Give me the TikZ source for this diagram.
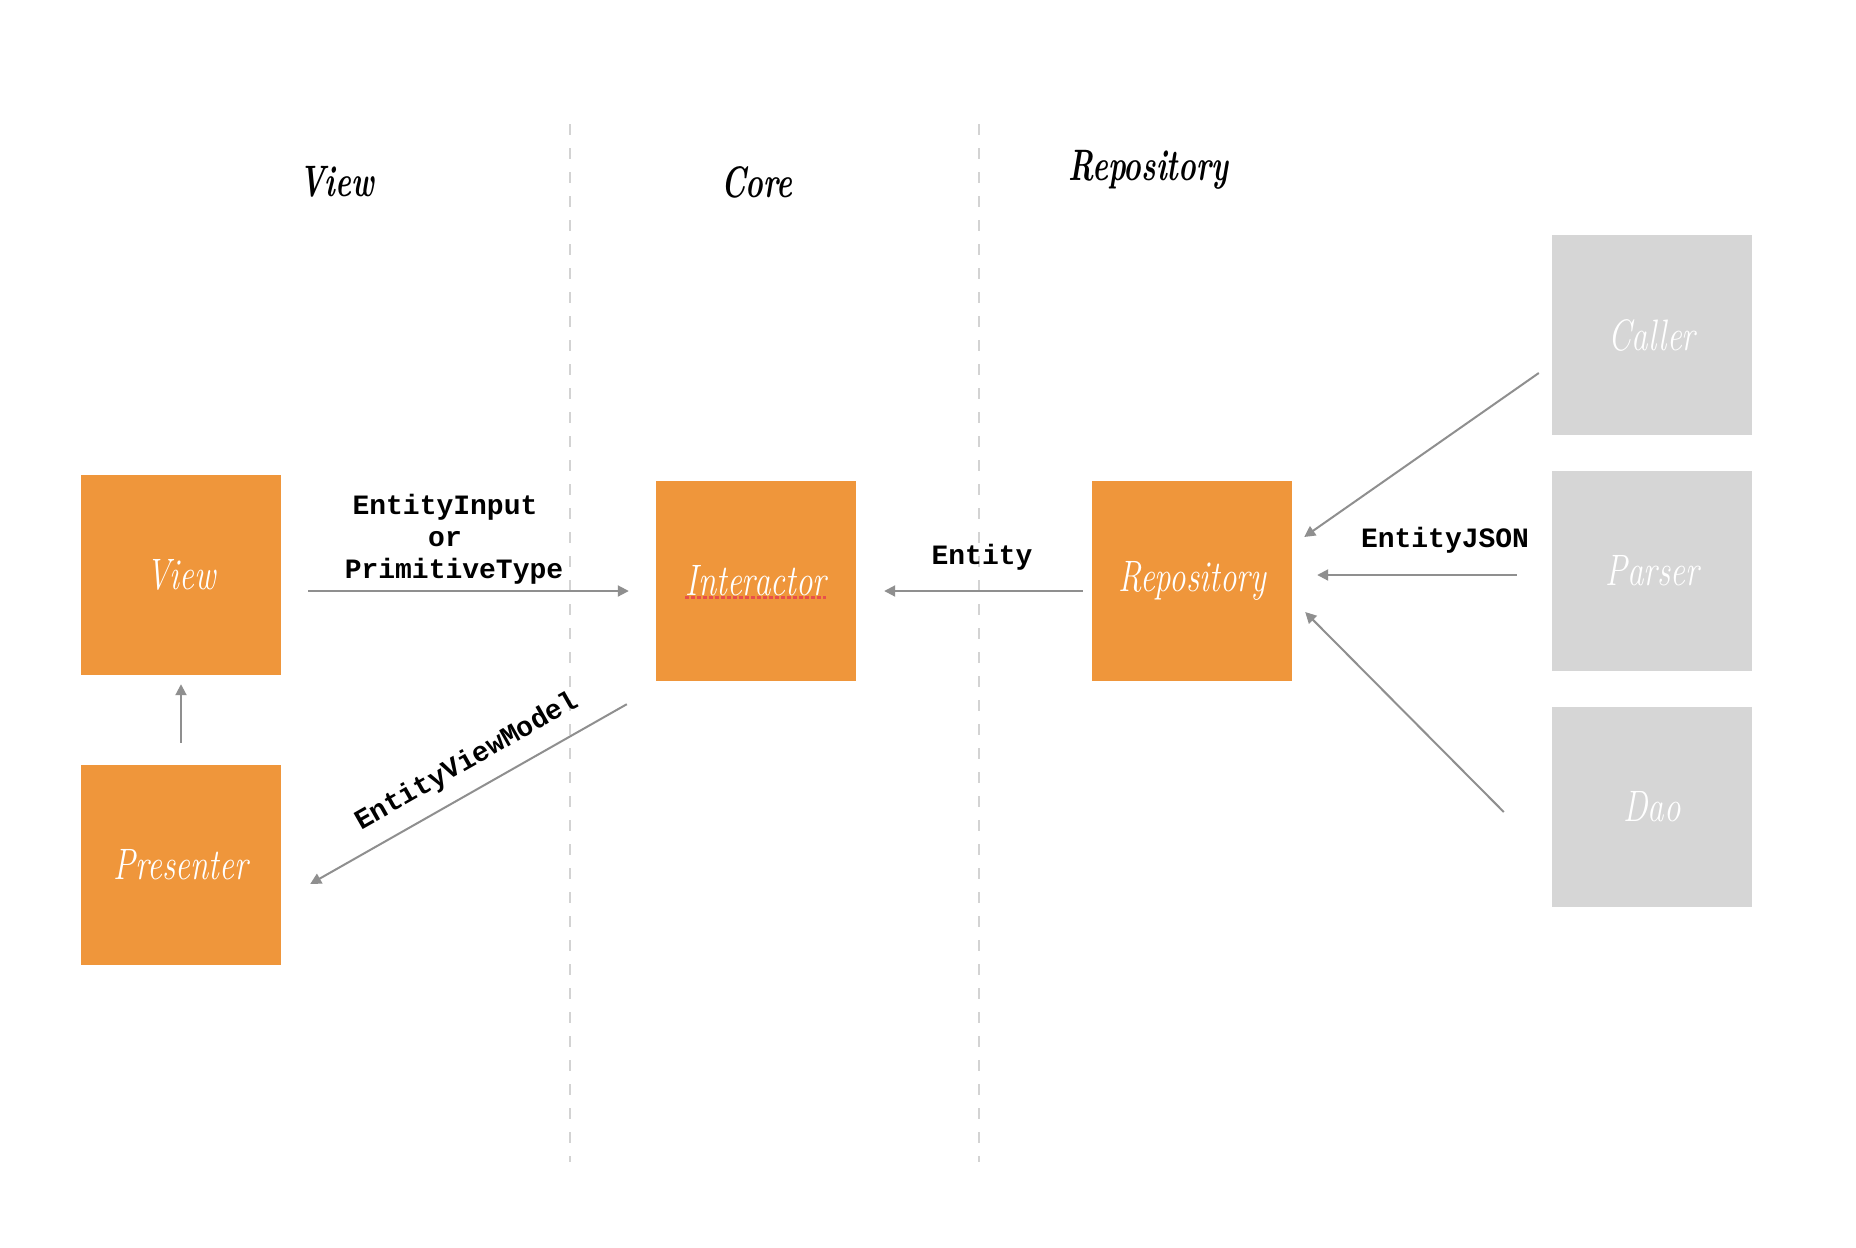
\documentclass[tikz,border=0pt]{standalone}
\usepackage{fontspec}
\newfontfamily\monof{Liberation Mono}
\usetikzlibrary{arrows.meta}
\definecolor{boxorange}{HTML}{EF963B}
\definecolor{boxgray}{HTML}{D6D6D6}
\definecolor{arrgray}{HTML}{8F8F8F}
\definecolor{dashgray}{HTML}{D3D3D3}
\definecolor{spellred}{HTML}{E8504A}
\newcommand{\scrtext}[1]{{\fontsize{44}{48}\selectfont\itshape\scalebox{0.75}[1]{#1}}}
\newcommand{\scrtitle}[1]{{\fontsize{44}{48}\selectfont\bfseries\itshape\scalebox{0.68}[1]{#1}}}
\tikzset{
  corebox/.style={fill=boxorange, draw=none, minimum width=200pt, minimum height=200pt, inner sep=0pt, text=white},
  extbox/.style={fill=boxgray, draw=none, minimum width=200pt, minimum height=200pt, inner sep=0pt, text=white},
  title/.style={text=black, inner sep=0pt},
  arr/.style={draw=arrgray, line width=2pt, -{Triangle[length=11pt,width=11pt]}},
  lbl/.style={font=\monof\bfseries\fontsize{28}{32}\selectfont, text=black, inner sep=0pt, align=center},
  sep/.style={draw=dashgray, line width=2pt, dash pattern=on 11pt off 13pt},
}
\begin{document}
\begin{tikzpicture}[x=1pt,y=-1pt]
\useasboundingbox[fill=white] (0,0) rectangle (1856,1248);
% separators
\draw[sep] (569.5,124) -- (569.5,1162);
\draw[sep] (979,124) -- (979,1162);
% titles
\node[title] (tview) at (337,182) {\scrtitle{View}};
\node[title] (tcore) at (757,182) {\scrtitle{Core}};
\node[title] (trepo) at (1148,170) {\scrtitle{Repository}};
% boxes
\node[corebox] (view) at (181,575) {\scrtext{View}};
\node[corebox] (presenter) at (181,865) {\scrtext{Presenter}};
\node[corebox] (interactor) at (756,581) {\scrtext{Interactor}};
\node[corebox] (repo) at (1192,581) {\scrtext{Repository}};
\node[extbox] (caller) at (1652,335) {\scrtext{Caller}};
\node[extbox] (parser) at (1652,571) {\scrtext{Parser}};
\node[extbox] (dao) at (1652,807) {\scrtext{Dao}};
% spell-check underline
\draw[spellred, line width=3pt, dash pattern=on 4pt off 2pt] ([xshift=-71pt,yshift=-16pt]interactor.center) -- ([xshift=70pt,yshift=-16pt]interactor.center);
% connectors
\draw[arr, shorten <=27pt, shorten >=27pt] ([yshift=-16pt]view.east) -- ([yshift=-10pt]interactor.west);
\draw[arr, shorten <=9pt, shorten >=28pt] ([yshift=-10pt]repo.west) -- ([yshift=-10pt]interactor.east);
\draw[arr, shorten <=22pt, shorten >=9pt] (presenter.north) -- (view.south);
\draw[arr] ([xshift=-29pt,yshift=-23pt]interactor.south west) -- ([xshift=29pt,yshift=-19pt]presenter.east);
\draw[arr] ([xshift=-13pt,yshift=-38pt]caller.west) -- ([xshift=12pt,yshift=44pt]repo.east);
\draw[arr] ([xshift=-35pt,yshift=-4pt]parser.west) -- ([xshift=25pt,yshift=6pt]repo.east);
\draw[arr] ([xshift=-48pt,yshift=-5pt]dao.west) -- ([xshift=13pt,yshift=-31pt]repo.east);
% labels
\node[lbl] (lblinput) at (445,539) {EntityInput\\or\\\hspace*{18pt}PrimitiveType};
\node[lbl] (lblentity) at (982,557) {Entity};
\node[lbl] (lbljson) at (1445,540) {EntityJSON};
\node[lbl, rotate=29.6] (lblvm) at (467,762) {EntityViewModel};
\end{tikzpicture}
\end{document}
